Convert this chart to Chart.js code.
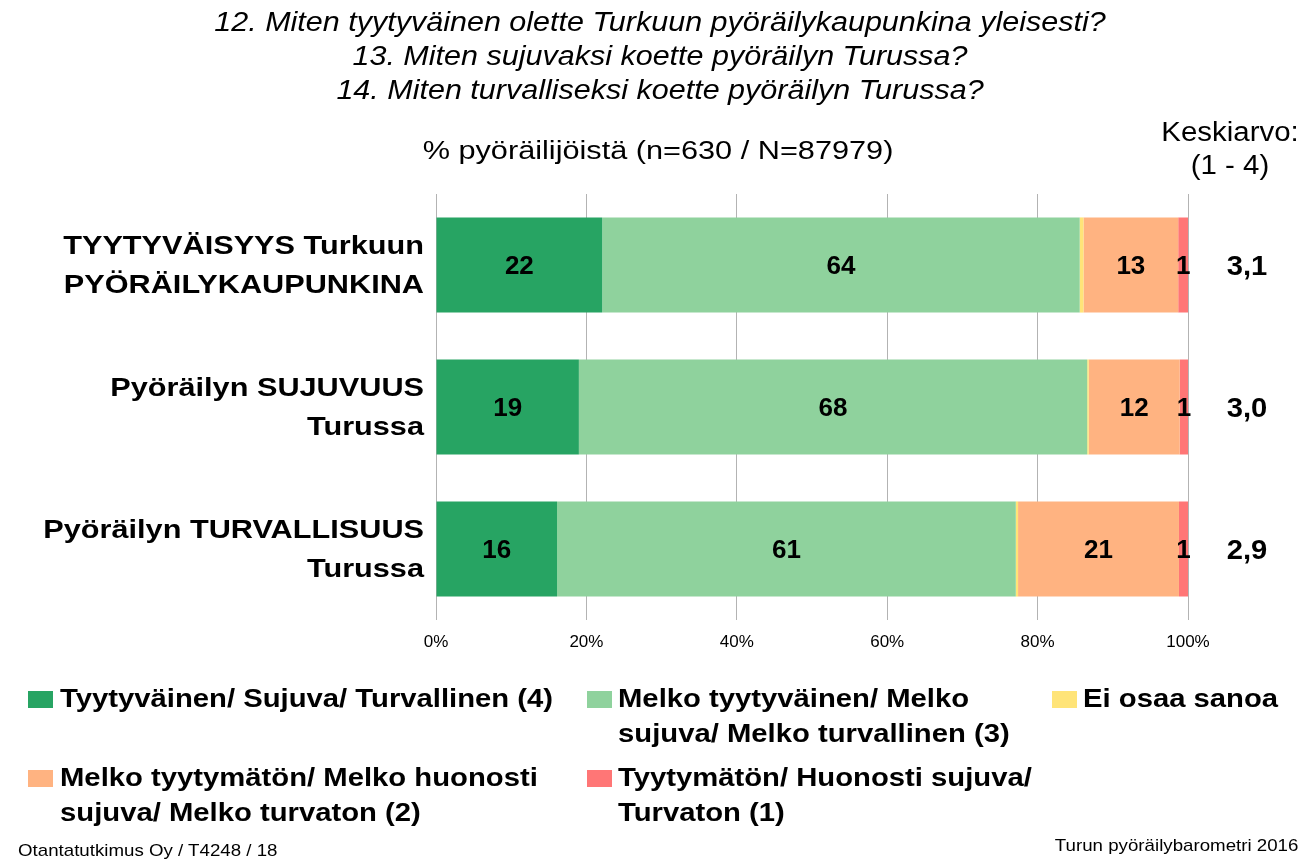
<!DOCTYPE html>
<html>
<head>
<meta charset="utf-8">
<script src="https://cdn.jsdelivr.net/npm/chart.js@4"></script>
<style>
  html, body { margin: 0; padding: 0; background: #fff; }
  #wrap { position: relative; width: 1306px; height: 868px; font-family: "Liberation Sans", Arial, sans-serif; color: #000; }
  canvas { position: absolute; left: 0; top: 0; }
  .t { position: absolute; white-space: nowrap; }
  .title { left: 0; width: 1320px; text-align: center; font-style: italic; font-size: 27px; line-height: 34px; top: 5px; transform: scaleX(1.13); transform-origin: 660px 0; }
  .sub { left: 0; width: 1316px; text-align: center; font-size: 26px; line-height: 30px; top: 135px; transform: scaleX(1.18); transform-origin: 658px 0; }
  .kesk { left: 1150px; width: 160px; text-align: center; font-size: 27px; line-height: 33px; top: 116px; transform: scaleX(1.09); transform-origin: 80px 0; }
  .leg { font-weight: bold; font-size: 26px; line-height: 35px; transform: scaleX(1.125); transform-origin: 0 0; }
  .sw { position: absolute; width: 25px; height: 17px; }
  .foot { font-size: 17px; line-height: 20px; }
</style>
</head>
<body>
<div id="wrap">
  <canvas id="c" width="1306" height="868"></canvas>
  <div class="t title">12. Miten tyytyväinen olette Turkuun pyöräilykaupunkina yleisesti?<br>13. Miten sujuvaksi koette pyöräilyn Turussa?<br>14. Miten turvalliseksi koette pyöräilyn Turussa?</div>
  <div class="t sub">% pyöräilijöistä (n=630 / N=87979)</div>
  <div class="t kesk">Keskiarvo:<br>(1 - 4)</div>
  <div id="legend"></div>
  <div class="t foot" style="left:18px; top:841px; transform:scaleX(1.1); transform-origin:0 0;">Otantatutkimus Oy / T4248 / 18</div>
  <div class="t foot" style="right:8px; top:836px; transform:scaleX(1.1); transform-origin:100% 0;">Turun pyöräilybarometri 2016</div>
</div>
<script>
const categories = [
  ["TYYTYVÄISYYS Turkuun", "PYÖRÄILYKAUPUNKINA"],
  ["Pyöräilyn SUJUVUUS", "Turussa"],
  ["Pyöräilyn TURVALLISUUS", "Turussa"]
];
const seriesNames = [
  "Tyytyväinen/ Sujuva/ Turvallinen (4)",
  "Melko tyytyväinen/ Melko sujuva/ Melko turvallinen (3)",
  "Ei osaa sanoa",
  "Melko tyytymätön/ Melko huonosti sujuva/ Melko turvaton (2)",
  "Tyytymätön/ Huonosti sujuva/ Turvaton (1)"
];
const tyytyvainen   = [22.1, 19.0, 16.1];
const melkoTyyty    = [63.5, 67.6, 61.0];
const eiOsaa        = [0.5, 0.2, 0.3];
const melkoTyytym   = [12.6, 12.1, 21.4];
const tyytymaton    = [1.3, 1.1, 1.2];
const averages      = [3.1, 3.0, 2.9];
const xTicks        = [0, 20, 40, 60, 80, 100];

const colors = ["#27a463", "#8fd29d", "#ffe478", "#ffb381", "#ff7676"];
const seriesData = [tyytyvainen, melkoTyyty, eiOsaa, melkoTyytym, tyytymaton];
const showLabel = [true, true, false, true, true];

// HTML legend (text kept as real text)
const legendLayout = [
  {sx: 28, tx: 60, y: 681, lines: ["Tyytyväinen/ Sujuva/ Turvallinen (4)"]},
  {sx: 587, tx: 618, y: 681, lines: ["Melko tyytyväinen/ Melko", "sujuva/ Melko turvallinen (3)"]},
  {sx: 1052, tx: 1083, y: 681, lines: ["Ei osaa sanoa"]},
  {sx: 28, tx: 60, y: 760, lines: ["Melko tyytymätön/ Melko huonosti", "sujuva/ Melko turvaton (2)"]},
  {sx: 587, tx: 618, y: 760, lines: ["Tyytymätön/ Huonosti sujuva/", "Turvaton (1)"]}
];
const legendEl = document.getElementById('legend');
legendLayout.forEach((l, i) => {
  const sw = document.createElement('div');
  sw.className = 'sw';
  sw.style.left = l.sx + 'px';
  sw.style.top = (l.y + 10) + 'px';
  sw.style.background = colors[i];
  legendEl.appendChild(sw);
  const tx = document.createElement('div');
  tx.className = 't leg';
  tx.style.left = l.tx + 'px';
  tx.style.top = l.y + 'px';
  tx.innerHTML = l.lines.join('<br>');
  legendEl.appendChild(tx);
});

function stretchText(ctx, text, x, y, sx) {
  ctx.save();
  ctx.translate(x, y);
  ctx.scale(sx, 1);
  ctx.fillText(text, 0, 0);
  ctx.restore();
}

const labelPlugin = {
  id: 'labels',
  afterDatasetsDraw(chart) {
    const ctx = chart.ctx;
    const yS = chart.scales.y;
    ctx.save();
    ctx.fillStyle = '#000';
    ctx.font = 'bold 25px "Liberation Sans", Arial, sans-serif';
    ctx.textAlign = 'center';
    ctx.textBaseline = 'middle';
    chart.data.datasets.forEach((ds, di) => {
      if (!showLabel[di]) return;
      const meta = chart.getDatasetMeta(di);
      meta.data.forEach((bar, i) => {
        const v = ds.data[i];
        const cx = (bar.x + bar.base) / 2;
        stretchText(ctx, String(Math.round(v)), cx, bar.y + 2, 1.04);
      });
    });
    ctx.font = 'bold 27px "Liberation Sans", Arial, sans-serif';
    averages.forEach((a, i) => {
      stretchText(ctx, a.toFixed(1).replace('.', ','), 1247, yS.getPixelForValue(i) + 3, 1.08);
    });
    ctx.font = 'bold 26px "Liberation Sans", Arial, sans-serif';
    ctx.textAlign = 'right';
    categories.forEach((lines, i) => {
      const cy = yS.getPixelForValue(i);
      stretchText(ctx, lines[0], 424, cy - 18, 1.18);
      stretchText(ctx, lines[1], 424, cy + 21, 1.18);
    });
    ctx.restore();
  }
};

new Chart(document.getElementById('c'), {
  type: 'bar',
  data: {
    labels: categories,
    datasets: seriesData.map((d, i) => ({
      label: seriesNames[i],
      data: d,
      backgroundColor: colors[i],
      borderWidth: 0,
      barPercentage: 0.67,
      categoryPercentage: 1.0
    }))
  },
  options: {
    indexAxis: 'y',
    responsive: false,
    animation: false,
    layout: { padding: { left: 0, right: 118, top: 194, bottom: 218 } },
    plugins: { legend: { display: false }, tooltip: { enabled: false } },
    scales: {
      x: {
        stacked: true,
        min: 0, max: 100,
        afterBuildTicks(scale) { scale.ticks = xTicks.map(v => ({ value: v })); },
        afterFit(scale) { scale.height = 30; },
        grid: { color: '#b3b3b3', lineWidth: 1, drawTicks: false },
        border: { display: false },
        ticks: {
          padding: 12,
          color: '#000',
          font: { size: 17, family: '"Liberation Sans", Arial, sans-serif' },
          callback: v => v + '%'
        }
      },
      y: {
        stacked: true,
        afterFit(scale) { scale.width = 436; },
        grid: { display: false },
        border: { display: false },
        ticks: { display: false }
      }
    }
  },
  plugins: [labelPlugin]
});
</script>
</body>
</html>
